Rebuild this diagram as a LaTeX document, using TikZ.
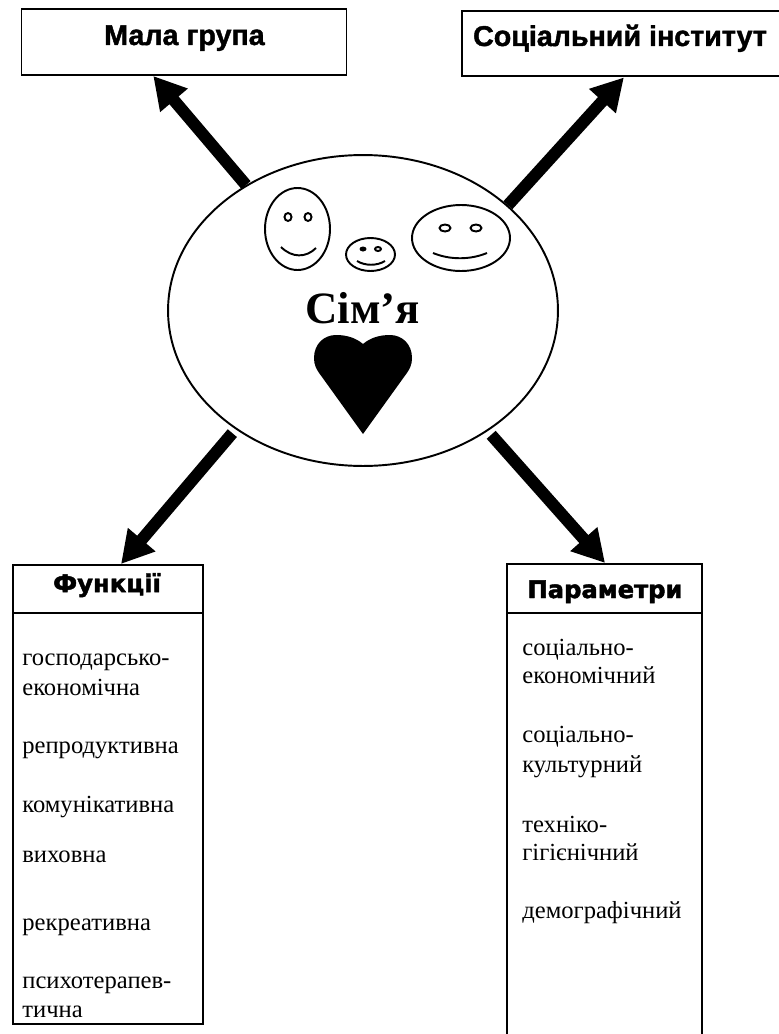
\documentclass[tikz,border=0pt]{standalone}
\usepackage{fontspec}
\setmainfont{Liberation Serif}
\newfontfamily\headfont[BoldFeatures={FakeBold=1.5}]{Liberation Sans}
\newfontfamily\widefont[BoldFeatures={FakeBold=2}]{DejaVu Sans}
\usetikzlibrary{calc, arrows.meta, shapes.geometric}
\tikzset{
    boxline/.style={draw, line width=1.1pt, inner sep=0pt},
    bigarrow/.style={line width=0.24cm, -{Triangle[length=0.64cm, width=0.68cm]}},
    faceline/.style={draw, line width=1.1pt},
    itemtext/.style={anchor=base west, inner sep=0pt, font=\fontsize{14}{14}\selectfont},
    tophead/.style={inner sep=0pt, anchor=base, font=\headfont\bfseries\fontsize{16.3}{16.3}\selectfont},
    listhead/.style={inner sep=0pt, anchor=base, font=\widefont\bfseries\fontsize{13.8}{13.8}\selectfont},
}
\begin{document}
\begin{tikzpicture}[x=0.02cm,y=-0.02cm]
    \useasboundingbox (0,0) rectangle (778,1034);
    \node[boxline, minimum width=6.5cm, minimum height=1.32cm] (mala) at (184,42) {};
    \node[tophead] (malatext) at (184.5,45) {Мала група};
    \node[boxline, anchor=north west, minimum width=7cm, minimum height=1.3cm] (inst) at (461,10.5) {};
    \node[tophead] (insttext) at (620,46) {Соціальний інститут};
    \node[ellipse, boxline, minimum width=7.8cm, minimum height=6.22cm] (simya) at (363,310.5) {};
    \node[boxline, anchor=north west, minimum width=3.8cm, minimum height=0.96cm] (func) at (12,564) {};
    \node[boxline, anchor=north west, minimum width=3.8cm, minimum height=8.22cm] (funclist) at (12,612) {};
    \node[listhead] (functext) at (107,592) {Функції};
    \node[boxline, anchor=north west, minimum width=3.9cm, minimum height=0.98cm] (param) at (506,563) {};
    \node[boxline, anchor=north west, minimum width=3.9cm, minimum height=9.4cm] (paramlist) at (506,612) {};
    \node[listhead] (paramtext) at (605,598) {Параметри};
    \draw[bigarrow] (simya.133) -- ($(mala.south west)!0.406!(mala.south east)$);
    \draw[bigarrow] (simya.36) -- ($(inst.south west)!0.463!(inst.south east)$);
    \draw[bigarrow, shorten <=0.1cm] (simya.223.3) -- ($(func.north west)!0.568!(func.north east)$);
    \draw[bigarrow, shorten <=0.1cm] (simya.316.7) -- ($(param.north west)!0.503!(param.north east)$);
    \foreach \y/\t in {665/господарсько-, 695/економічна, 753/репродуктивна, 812/комунікативна,
        862/виховна, 930/рекреативна, 988/психотерапев-, 1017/тична}
        \node[itemtext] (f\y) at (22,\y) {\t};
    \foreach \y/\t in {655/соціально-, 683/економічний, 742/соціально-, 772/культурний,
        832/техніко-, 860/гігієнічний, 918/демографічний}
        \node[itemtext] (p\y) at (522,\y) {\t};
    \draw[faceline] (297.5,229) ellipse (32.5 and 41);
    \draw[faceline] (288,217) ellipse (3.5 and 4);
    \draw[faceline] (308,217) ellipse (3.5 and 4);
    \draw[faceline] (281,247) .. controls (292,258) and (306,258) .. (316,248);
    \draw[faceline] (370.5,254.5) ellipse (24.5 and 16.5);
    \fill (363,249) ellipse (3.5 and 2.5);
    \draw[faceline] (378,249) ellipse (3 and 2);
    \draw[faceline] (357,261) .. controls (365,266) and (377,266) .. (385,261);
    \draw[faceline] (461,238) ellipse (49 and 33);
    \draw[faceline] (445,228) ellipse (5.5 and 3.5);
    \draw[faceline] (476,228) ellipse (5.5 and 3.5);
    \draw[faceline] (433,253) .. controls (450,260) and (470,260) .. (487,253);
    \node[inner sep=0pt, anchor=base, font=\bfseries\fontsize{25.5}{25.5}\selectfont] (simyatext) at (362.5,323) {Сім’я};
    \fill (363,434) -- (322,377) .. controls (316,369) and (314,365) .. (314,358)
        .. controls (314,344) and (324,335) .. (336,335) .. controls (347,335) and (356,338) .. (363,344)
        .. controls (370,338) and (379,335) .. (390,335) .. controls (402,335) and (412,344) .. (412,358)
        .. controls (412,365) and (410,369) .. (404,377) -- cycle;
\end{tikzpicture}
\end{document}
